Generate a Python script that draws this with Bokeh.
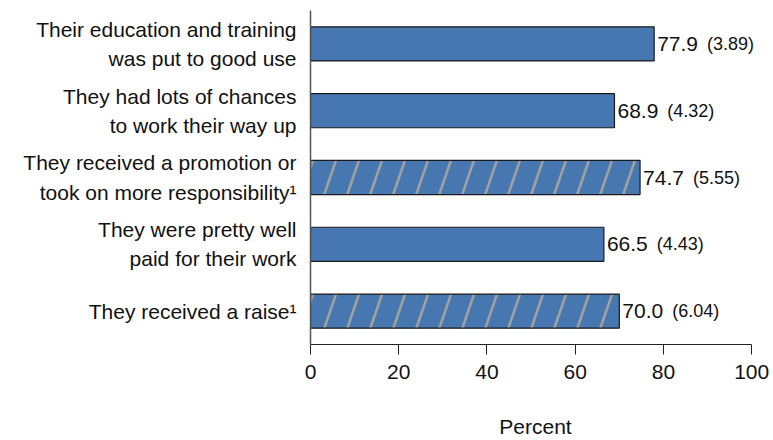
import base64
from bokeh.plotting import figure
from bokeh.models import FactorRange, Range1d, ColumnDataSource, LabelSet, FixedTicker, ImageURLTexture
from bokeh.core.properties import value
from bokeh.embed import file_html
from bokeh.resources import INLINE

# ---- data ----
categories = [
    "Their education and training\nwas put to good use",
    "They had lots of chances\nto work their way up",
    "They received a promotion or\ntook on more responsibility\u00b9",
    "They were pretty well\npaid for their work",
    "They received a raise\u00b9",
]
percent = [77.9, 68.9, 74.7, 66.5, 70.0]
std_err = [3.89, 4.32, 5.55, 4.43, 6.04]
footnoted = [False, False, True, False, True]
x_ticks = [0, 20, 40, 60, 80, 100]

FONT = "Liberation Sans"
BLUE = "#4677B1"
TXT = "#111111"

# steep diagonal hatch tile (style)
_tile = ('<svg xmlns="http://www.w3.org/2000/svg" width="23" height="67">'
         '<g stroke="#A0A0A0" stroke-width="2.6">'
         '<line x1="0" y1="67" x2="23" y2="0"/>'
         '<line x1="-23" y1="67" x2="0" y2="0"/>'
         '<line x1="23" y1="67" x2="46" y2="0"/>'
         '</g></svg>')
TILE_URL = "data:image/svg+xml;base64," + base64.b64encode(_tile.encode()).decode()

# approximate Arial advance widths (em) for offsetting the SE text
_W = {".": 0.278, " ": 0.278}
def text_width(s, size):
    return sum(_W.get(c, 0.556) for c in s) * size

num_size = 21
num_txt = [f"{v:.1f}" for v in percent]
se_txt = [f"({s:.2f})" for s in std_err]
se_offset = [3 + text_width(t, num_size) + 9 for t in num_txt]

src = ColumnDataSource(dict(
    cat=categories,
    val=percent,
    num=num_txt,
    se=se_txt,
    se_off=se_offset,
    hatch=["steep" if f else " " for f in footnoted],
))

# frame extends slightly past 100 so the value labels are not clipped;
# the axis line itself is bounded to 0..100
p = figure(
    width=770, height=440,
    y_range=FactorRange(factors=list(reversed(categories)), range_padding=0),
    x_range=Range1d(0, 102),
    output_backend="svg", toolbar_location=None,
    min_border_left=310, min_border_right=10, min_border_top=10, min_border_bottom=89,
)
p.outline_line_color = None
p.grid.visible = False

p.hbar(y="cat", right="val", left=0, height=0.51, source=src,
       fill_color=BLUE, line_color="#1a1a1a", line_width=1.2,
       hatch_pattern="hatch", hatch_extra={"steep": ImageURLTexture(url=TILE_URL)})

p.add_layout(LabelSet(x="val", y="cat", text="num", source=src, x_offset=3,
                      text_font=value(FONT), text_font_size=f"{num_size}px",
                      text_baseline="middle", text_align="left", text_color=TXT))
p.add_layout(LabelSet(x="val", y="cat", text="se", source=src, x_offset="se_off",
                      text_font=value(FONT), text_font_size="18px",
                      text_baseline="middle", text_align="left", text_color=TXT))

# x axis
xa = p.xaxis[0]
xa.ticker = FixedTicker(ticks=x_ticks)
xa.bounds = (0, 100)
xa.axis_label = "Percent"
xa.axis_label_text_font = FONT
xa.axis_label_text_font_size = "21px"
xa.axis_label_text_font_style = "normal"
xa.axis_label_text_color = TXT
xa.axis_label_standoff = 33
xa.major_label_text_font = FONT
xa.major_label_text_font_size = "21px"
xa.major_label_text_color = TXT
xa.major_label_standoff = 10
xa.major_tick_in = 0
xa.major_tick_out = 10
xa.minor_tick_line_color = None
xa.axis_line_color = "#222222"
xa.major_tick_line_color = "#222222"

# y axis
ya = p.yaxis[0]
ya.major_tick_line_color = None
ya.minor_tick_line_color = None
ya.axis_line_color = "#555555"
ya.axis_line_width = 1.5
ya.major_label_text_font = FONT
ya.major_label_text_font_size = "21px"
ya.major_label_text_color = TXT
ya.major_label_text_line_height = 1.27
ya.major_label_standoff = 8

open("out.html", "w").write(file_html(p, INLINE))
